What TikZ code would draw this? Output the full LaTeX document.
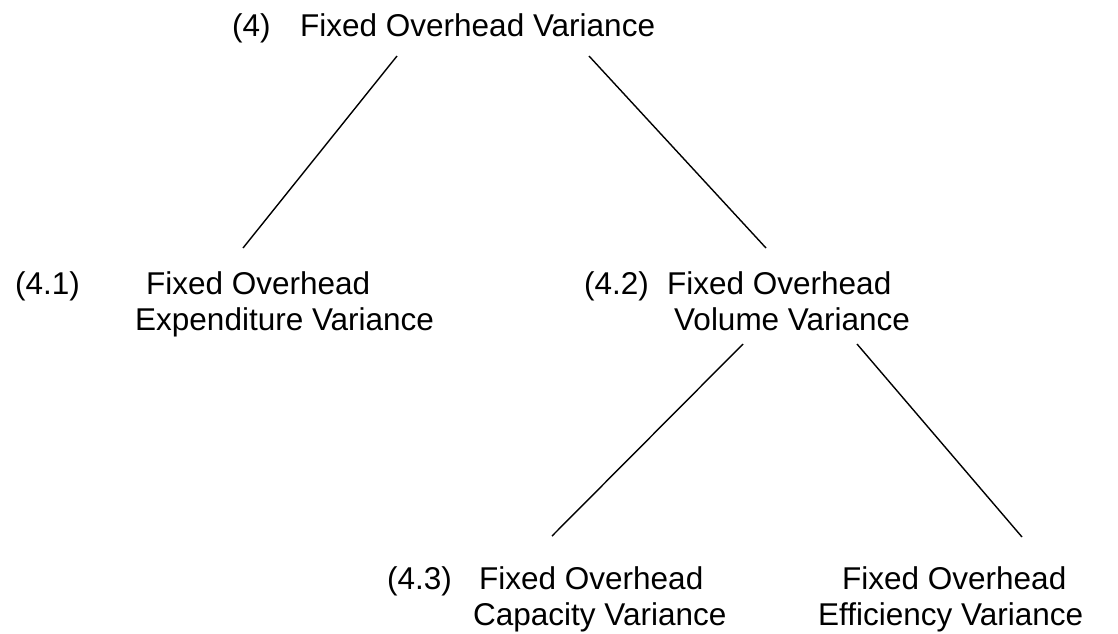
\documentclass[tikz,border=0pt]{standalone}
\usepackage{fontspec}
\setmainfont{Liberation Sans}
\begin{document}
\begin{tikzpicture}[x=1pt,y=-1pt,
  lbl/.style={anchor=base west,inner sep=0pt,font=\fontsize{31.5}{36}\selectfont},
  conn/.style={line width=1.4pt,black}]
\useasboundingbox (0,0) rectangle (1118,633);
% top
\node[lbl] (n4) at (232,36) {(4)};
\node[lbl] (t4) at (300,36) {Fixed Overhead Variance};
% row 2
\node[lbl] (n41) at (15,294) {(4.1)};
\node[lbl] (t41a) at (146,294) {Fixed Overhead};
\node[lbl] (t41b) at (135,330) {Expenditure Variance};
\node[lbl] (n42) at (584,294) {(4.2)};
\node[lbl] (t42a) at (667,294) {Fixed Overhead};
\node[lbl] (t42b) at (674,330) {Volume Variance};
% row 3
\node[lbl] (n43) at (387,589) {(4.3)};
\node[lbl] (t43a) at (479,589) {Fixed Overhead};
\node[lbl] (t43b) at (473,625) {Capacity Variance};
\node[lbl] (t44a) at (842,589) {Fixed Overhead};
\node[lbl] (t44b) at (818,625) {Efficiency Variance};
% connector ends
\coordinate (a1) at (397,56);  \coordinate (b1) at (243,248);
\coordinate (a2) at (589,56);  \coordinate (b2) at (766,248);
\coordinate (a3) at (743,344); \coordinate (b3) at (552,536);
\coordinate (a4) at (857,344); \coordinate (b4) at (1022,537);
\draw[conn] (a1) -- (b1);
\draw[conn] (a2) -- (b2);
\draw[conn] (a3) -- (b3);
\draw[conn] (a4) -- (b4);
\end{tikzpicture}
\end{document}
